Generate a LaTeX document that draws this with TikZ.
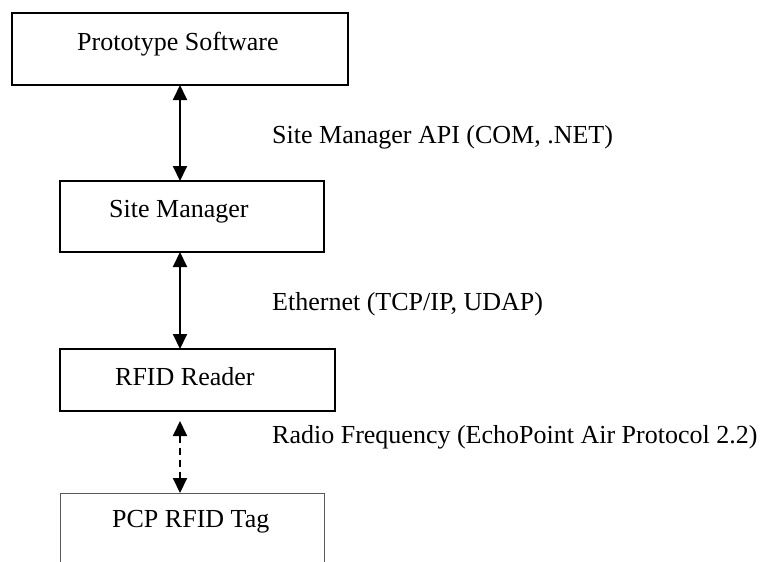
\documentclass[tikz,border=0pt]{standalone}
\usepackage{fontspec}
\setmainfont{Liberation Serif}
\usetikzlibrary{arrows.meta}
\begin{document}
\begin{tikzpicture}[x=1pt,y=-1pt,
  box/.style={draw, line width=1.5pt, anchor=north west, inner sep=0pt, outer sep=0pt},
  tagbox/.style={draw=black!65, line width=1pt, anchor=north west, inner sep=0pt, outer sep=0pt},
  txt/.style={anchor=base west, inner sep=0pt, font=\fontsize{26}{31}\selectfont},
  arr/.style={line width=2pt, {Triangle[length=15pt,width=14pt]}-{Triangle[length=15pt,width=14pt]}},
  darr/.style={arr, dash pattern=on 7pt off 5pt}]
\fill[white] (0,0) rectangle (771,562);
\useasboundingbox (0,0) rectangle (771,562);
\clip (0,0) rectangle (771,562);

\node[box, minimum width=336pt, minimum height=72pt] (proto) at (12,13) {};
\node[box, minimum width=264pt, minimum height=71pt] (sm) at (60,181) {};
\node[box, minimum width=275pt, minimum height=62pt] (rr) at (60,349) {};
\node[tagbox, minimum width=264pt, minimum height=120pt] (tag) at (60,493) {};

\node[txt] (protot) at (77,50) {Prototype Software};
\node[txt] (smt) at (109,217) {Site Manager};
\node[txt] (rrt) at (115,385) {RFID Reader};
\node[txt] (tagt) at (112,527) {PCP RFID Tag};

\node[txt] (l1) at (272,143) {Site Manager API (COM, .NET)};
\node[txt] (l2) at (272,310) {Ethernet (TCP/IP, UDAP)};
\node[txt] (l3) at (272,443) {Radio Frequency (EchoPoint Air Protocol 2.2)};

\draw[arr] (proto.south) -- (proto.south |- sm.north);
\draw[arr] (proto.south |- sm.south) -- (proto.south |- rr.north);
\coordinate (rfstart) at (180,421);
\draw[darr] (rfstart) -- (rfstart |- tag.north);
\end{tikzpicture}
\end{document}
